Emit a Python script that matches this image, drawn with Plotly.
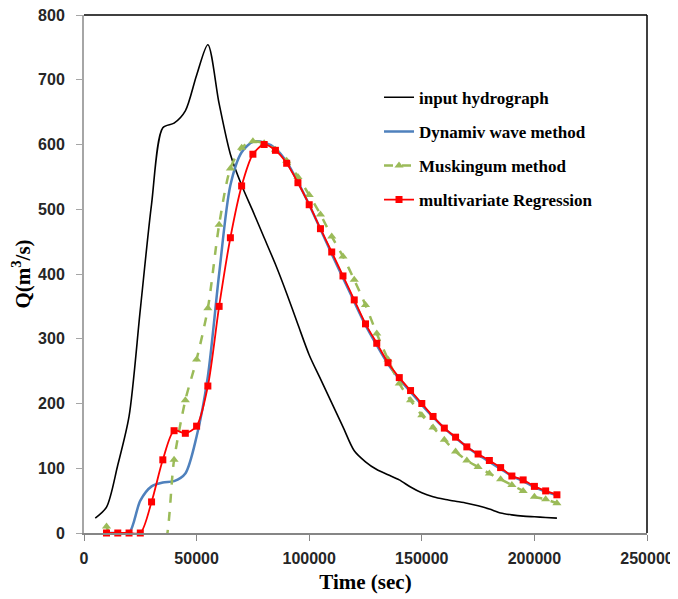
import plotly.graph_objects as go

# ---------------- data ----------------
t_input = [5000, 10000, 15000, 20000, 25000, 30000, 35000, 40000, 45000, 50000,
           55000, 60000, 65000, 70000, 75000, 80000, 85000, 90000, 95000, 100000,
           105000, 110000, 115000, 120000, 125000, 130000, 135000, 140000, 145000,
           150000, 155000, 160000, 165000, 170000, 175000, 180000, 185000, 190000,
           195000, 200000, 205000, 210000]
q_input = [23, 40, 105, 180, 345, 508, 626, 633, 652, 707,
           754, 663, 585, 537, 497, 456, 415, 370, 322, 275,
           238, 201, 164, 127, 110, 98, 90, 82, 71,
           62, 56, 52, 49, 46, 42, 37, 31, 28,
           26, 25, 24, 23]

t_dyn = [10000, 15000, 20000, 25000, 30000, 35000, 40000, 45000, 50000, 55000,
         60000, 65000, 70000, 75000, 80000, 85000, 90000, 95000, 100000, 105000,
         110000, 115000, 120000, 125000, 130000, 135000, 140000, 145000, 150000,
         155000, 160000, 165000, 170000, 175000, 180000, 185000, 190000, 195000,
         200000, 205000, 210000]
q_dyn = [0, 0, 0, 50, 72, 78, 80, 92, 149, 242,
         400, 537, 588, 604, 603, 594, 573, 542, 507, 469,
         431, 394, 357, 321, 290, 261, 238, 218, 198,
         179, 162, 147, 133, 121, 110, 99, 88, 80,
         71, 64, 58]

t_musk = t_dyn
q_musk = [10, -30, -40, -40, -35, -28, 113, 205, 268, 347,
          476, 563, 595, 605, 602, 592, 575, 550, 522, 492,
          458, 427, 391, 352, 308, 268, 231, 205, 182,
          163, 144, 126, 112, 102, 92, 83, 74, 65,
          56, 52, 46]

t_reg = t_dyn
q_reg = [0, 0, 0, 0, 48, 113, 158, 154, 165, 227,
         350, 456, 536, 585, 600, 591, 571, 541, 507, 470,
         434, 397, 360, 323, 293, 263, 240, 220, 200,
         180, 162, 148, 133, 122, 112, 101, 88, 82,
         72, 65, 59]

x_ticks = [0, 50000, 100000, 150000, 200000, 250000]
y_ticks = [0, 100, 200, 300, 400, 500, 600, 700, 800]

# ---------------- figure ----------------
fig = go.Figure()

fig.add_trace(go.Scatter(
    x=t_input, y=q_input, name="input hydrograph", mode="lines",
    line=dict(color="black", width=1.6, shape="spline", smoothing=0.8),
    legendgroup="a"))

fig.add_trace(go.Scatter(
    x=t_dyn, y=q_dyn, name="Dynamiv wave method", mode="lines",
    line=dict(color="#4F81BD", width=2.5, shape="spline", smoothing=0.8),
    legendgroup="b"))

fig.add_trace(go.Scatter(
    x=t_musk, y=q_musk, name="Muskingum method", mode="lines+markers",
    line=dict(color="#9BBB59", width=2.5, dash="dash", shape="spline", smoothing=0.8),
    marker=dict(symbol="triangle-up", size=8, color="#9BBB59"),
    legendgroup="c"))

fig.add_trace(go.Scatter(
    x=t_reg, y=q_reg, name="multivariate Regression", mode="lines+markers",
    line=dict(color="#FF0000", width=1.8, shape="spline", smoothing=0.8),
    marker=dict(symbol="square", size=7, color="#FF0000"),
    cliponaxis=False, legendgroup="d"))

tickfont = dict(family="Liberation Sans", size=16, color="#262626", weight="bold")
titlefont = dict(family="Liberation Serif", size=21, color="black", weight="bold")

# page body adds an 8px offset, so the figure is 8px smaller than the window
fig.update_layout(
    width=670, height=591,
    margin=dict(l=76, r=31, t=7, b=66, autoexpand=False),
    paper_bgcolor="white", plot_bgcolor="white",
    showlegend=True,
    legend=dict(x=0.524, y=0.875, xanchor="left", yanchor="top",
                bgcolor="rgba(0,0,0,0)",
                font=dict(family="Liberation Serif", size=17, color="black", weight="bold"),
                tracegroupgap=9, itemwidth=30),
    xaxis=dict(range=[0, 250000], tickvals=x_ticks, ticktext=[str(v) for v in x_ticks],
               showgrid=False, zeroline=False, automargin=False,
               showline=True, linecolor="#868686", linewidth=1.5,
               ticks="outside", ticklen=6, tickcolor="#868686",
               tickfont=tickfont, ticklabelstandoff=4, ticklabeloverflow="allow",
               title=dict(text="Time (sec)", font=titlefont, standoff=8)),
    yaxis=dict(range=[0, 800], tickvals=y_ticks, ticktext=[str(v) for v in y_ticks],
               showgrid=False, zeroline=False, automargin=False,
               showline=True, linecolor="#A6A6A6", linewidth=2,
               ticks="outside", ticklen=6, tickcolor="#A6A6A6",
               tickfont=tickfont, ticklabelstandoff=8, ticklabeloverflow="allow",
               title=dict(text="Q(m<sup>3</sup>/s)", font=titlefont, standoff=4)),
    shapes=[
        dict(type="line", xref="paper", yref="paper", x0=0, x1=1, y0=1, y1=1,
             line=dict(color="black", width=1.5)),
        dict(type="line", xref="paper", yref="paper", x0=1, x1=1, y0=0, y1=1,
             line=dict(color="black", width=1.5)),
    ],
)

fig.write_html("out.html")
